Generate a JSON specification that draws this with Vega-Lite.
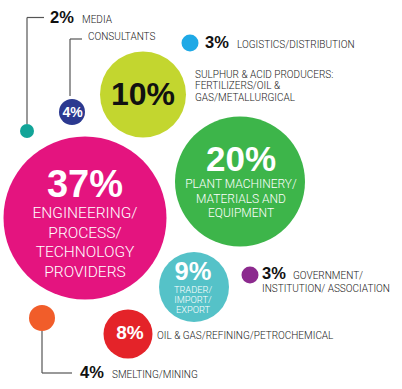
{
  "$schema": "https://vega.github.io/schema/vega-lite/v6.json",
  "width": 402,
  "height": 389,
  "padding": 0,
  "autosize": {"type": "none"},
  "background": "#ffffff",
  "config": {"view": {"stroke": null}, "axis": {"disable": true}, "legend": {"disable": true}},
  "datasets": {
    "bubbles": [
      {"cat": "Engineering/Process/Technology Providers", "pct": 37, "x": 85, "y": 218},
      {"cat": "Plant Machinery/Materials and Equipment", "pct": 20, "x": 240, "y": 181.5},
      {"cat": "Sulphur & Acid Producers", "pct": 10, "x": 143, "y": 94.5},
      {"cat": "Trader/Import/Export", "pct": 9, "x": 194, "y": 287},
      {"cat": "Oil & Gas/Refining/Petrochemical", "pct": 8, "x": 128, "y": 334},
      {"cat": "Consultants", "pct": 4, "x": 72, "y": 112},
      {"cat": "Smelting/Mining", "pct": 4, "x": 42, "y": 318},
      {"cat": "Logistics/Distribution", "pct": 3, "x": 190, "y": 43},
      {"cat": "Government/Institution/Association", "pct": 3, "x": 250, "y": 275},
      {"cat": "Media", "pct": 2, "x": 27, "y": 131}
    ],
    "connectors": [
      {"cat": "Media", "x": 27, "y": 124, "x2": 27, "y2": 17.5},
      {"cat": "Media", "x": 27, "y": 17.5, "x2": 44, "y2": 17.5},
      {"cat": "Consultants", "x": 70, "y": 96, "x2": 70, "y2": 39},
      {"cat": "Consultants", "x": 70, "y": 39, "x2": 82, "y2": 39},
      {"cat": "Smelting/Mining", "x": 42, "y": 331, "x2": 42, "y2": 373},
      {"cat": "Smelting/Mining", "x": 42, "y": 373, "x2": 72, "y2": 373}
    ],
    "labels": [
      {"cat": "Engineering/Process/Technology Providers", "part": "pct", "text": "37%", "x": 85, "y": 197},
      {"cat": "Engineering/Process/Technology Providers", "part": "desc", "text": "ENGINEERING/", "x": 85, "y": 218},
      {"cat": "Engineering/Process/Technology Providers", "part": "desc", "text": "PROCESS/", "x": 85, "y": 237.5},
      {"cat": "Engineering/Process/Technology Providers", "part": "desc", "text": "TECHNOLOGY", "x": 85, "y": 257},
      {"cat": "Engineering/Process/Technology Providers", "part": "desc", "text": "PROVIDERS", "x": 85, "y": 277},
      {"cat": "Plant Machinery/Materials and Equipment", "part": "pct", "text": "20%", "x": 241, "y": 171},
      {"cat": "Plant Machinery/Materials and Equipment", "part": "desc", "text": "PLANT MACHINERY/", "x": 241, "y": 187.5},
      {"cat": "Plant Machinery/Materials and Equipment", "part": "desc", "text": "MATERIALS AND", "x": 241, "y": 202.5},
      {"cat": "Plant Machinery/Materials and Equipment", "part": "desc", "text": "EQUIPMENT", "x": 241, "y": 217},
      {"cat": "Sulphur & Acid Producers", "part": "pct", "text": "10%", "x": 143, "y": 105},
      {"cat": "Sulphur & Acid Producers", "part": "out", "text": "SULPHUR & ACID PRODUCERS:", "x": 195, "y": 78},
      {"cat": "Sulphur & Acid Producers", "part": "out", "text": "FERTILIZERS/OIL &", "x": 195, "y": 89.3},
      {"cat": "Sulphur & Acid Producers", "part": "out", "text": "GAS/METALLURGICAL", "x": 195, "y": 100.6},
      {"cat": "Trader/Import/Export", "part": "pct", "text": "9%", "x": 193, "y": 279.5},
      {"cat": "Trader/Import/Export", "part": "desc", "text": "TRADER/", "x": 193, "y": 293.2},
      {"cat": "Trader/Import/Export", "part": "desc", "text": "IMPORT/", "x": 193, "y": 303.2},
      {"cat": "Trader/Import/Export", "part": "desc", "text": "EXPORT", "x": 193, "y": 313.2},
      {"cat": "Oil & Gas/Refining/Petrochemical", "part": "pct", "text": "8%", "x": 130, "y": 339},
      {"cat": "Oil & Gas/Refining/Petrochemical", "part": "out", "text": "OIL & GAS/REFINING/PETROCHEMICAL", "x": 157, "y": 339},
      {"cat": "Consultants", "part": "pct", "text": "4%", "x": 72.5, "y": 117},
      {"cat": "Consultants", "part": "out", "text": "CONSULTANTS", "x": 88, "y": 40},
      {"cat": "Smelting/Mining", "part": "outpct", "text": "4%", "x": 80, "y": 378},
      {"cat": "Smelting/Mining", "part": "out", "text": "SMELTING/MINING", "x": 112, "y": 378},
      {"cat": "Logistics/Distribution", "part": "outpct", "text": "3%", "x": 205, "y": 48},
      {"cat": "Logistics/Distribution", "part": "out", "text": "LOGISTICS/DISTRIBUTION", "x": 237, "y": 48},
      {"cat": "Government/Institution/Association", "part": "outpct", "text": "3%", "x": 262, "y": 279},
      {"cat": "Government/Institution/Association", "part": "out", "text": "GOVERNMENT/", "x": 293, "y": 279},
      {"cat": "Government/Institution/Association", "part": "out", "text": "INSTITUTION/ ASSOCIATION", "x": 262, "y": 292},
      {"cat": "Media", "part": "outpct", "text": "2%", "x": 50, "y": 23},
      {"cat": "Media", "part": "out", "text": "MEDIA", "x": 82, "y": 23}
    ]
  },
  "encoding": {
    "x": {"field": "x", "type": "quantitative", "scale": {"domain": [0, 402], "nice": false, "zero": false}},
    "y": {"field": "y", "type": "quantitative", "scale": {"domain": [0, 389], "nice": false, "zero": false, "reverse": true}}
  },
  "layer": [
    {
      "data": {"name": "connectors"},
      "mark": {"type": "rule", "color": "#555555", "strokeWidth": 1.2},
      "encoding": {"x2": {"field": "x2"}, "y2": {"field": "y2"}}
    },
    {
      "data": {"name": "bubbles"},
      "mark": {"type": "circle", "opacity": 1},
      "encoding": {
        "size": {"field": "pct", "type": "quantitative", "scale": {"type": "linear", "domain": [2, 3, 4, 8, 9, 10, 20, 37], "range": [196, 289, 676, 2401, 4900, 7396, 16900, 26569]}},
        "color": {"field": "cat", "type": "nominal", "scale": {
          "domain": ["Engineering/Process/Technology Providers", "Plant Machinery/Materials and Equipment", "Sulphur & Acid Producers", "Trader/Import/Export", "Oil & Gas/Refining/Petrochemical", "Consultants", "Smelting/Mining", "Logistics/Distribution", "Government/Institution/Association", "Media"],
          "range": ["#e4147f", "#3db54a", "#c3d62f", "#55c2c8", "#e42329", "#2b3990", "#f15d2a", "#1fa9e6", "#8c2a8e", "#12a498"]}}
      }
    },
    {
      "data": {"name": "labels"},
      "transform": [{"filter": "datum.part === 'pct' && datum.text === '37%'"}],
      "mark": {"type": "text", "font": "Liberation Sans", "fontWeight": "bold", "fontSize": 38, "color": "#ffffff", "align": "center", "baseline": "alphabetic"},
      "encoding": {"text": {"field": "text"}}
    },
    {
      "data": {"name": "labels"},
      "transform": [{"filter": "datum.part === 'pct' && datum.text === '20%'"}],
      "mark": {"type": "text", "font": "Liberation Sans", "fontWeight": "bold", "fontSize": 35, "color": "#ffffff", "align": "center", "baseline": "alphabetic"},
      "encoding": {"text": {"field": "text"}}
    },
    {
      "data": {"name": "labels"},
      "transform": [{"filter": "datum.part === 'pct' && datum.text === '10%'"}],
      "mark": {"type": "text", "font": "Liberation Sans", "fontWeight": "bold", "fontSize": 32, "color": "#111111", "align": "center", "baseline": "alphabetic"},
      "encoding": {"text": {"field": "text"}}
    },
    {
      "data": {"name": "labels"},
      "transform": [{"filter": "datum.part === 'pct' && datum.text === '9%'"}],
      "mark": {"type": "text", "font": "Liberation Sans", "fontWeight": "bold", "fontSize": 25.5, "color": "#ffffff", "align": "center", "baseline": "alphabetic"},
      "encoding": {"text": {"field": "text"}}
    },
    {
      "data": {"name": "labels"},
      "transform": [{"filter": "datum.part === 'pct' && datum.text === '8%'"}],
      "mark": {"type": "text", "font": "Liberation Sans", "fontWeight": "bold", "fontSize": 19, "color": "#ffffff", "align": "center", "baseline": "alphabetic"},
      "encoding": {"text": {"field": "text"}}
    },
    {
      "data": {"name": "labels"},
      "transform": [{"filter": "datum.part === 'pct' && datum.cat === 'Consultants'"}],
      "mark": {"type": "text", "font": "Liberation Sans", "fontWeight": "bold", "fontSize": 14, "color": "#ffffff", "align": "center", "baseline": "alphabetic"},
      "encoding": {"text": {"field": "text"}}
    },
    {
      "data": {"name": "labels"},
      "transform": [{"filter": "datum.part === 'desc' && datum.cat === 'Engineering/Process/Technology Providers'"}],
      "mark": {"type": "text", "font": "Roboto", "fontWeight": 300, "fontSize": 15.5, "color": "#ffffff", "align": "center", "baseline": "alphabetic"},
      "encoding": {"text": {"field": "text"}}
    },
    {
      "data": {"name": "labels"},
      "transform": [{"filter": "datum.part === 'desc' && datum.cat === 'Plant Machinery/Materials and Equipment'"}],
      "mark": {"type": "text", "font": "Roboto", "fontWeight": 300, "fontSize": 12, "color": "#ffffff", "align": "center", "baseline": "alphabetic"},
      "encoding": {"text": {"field": "text"}}
    },
    {
      "data": {"name": "labels"},
      "transform": [{"filter": "datum.part === 'desc' && datum.cat === 'Trader/Import/Export'"}],
      "mark": {"type": "text", "font": "Roboto", "fontWeight": 300, "fontSize": 9.3, "color": "#ffffff", "align": "center", "baseline": "alphabetic"},
      "encoding": {"text": {"field": "text"}}
    },
    {
      "data": {"name": "labels"},
      "transform": [{"filter": "datum.part === 'outpct'"}],
      "mark": {"type": "text", "font": "Liberation Sans", "fontWeight": "bold", "fontSize": 16.5, "color": "#111111", "align": "left", "baseline": "alphabetic"},
      "encoding": {"text": {"field": "text"}}
    },
    {
      "data": {"name": "labels"},
      "transform": [{"filter": "datum.part === 'out'"}],
      "mark": {"type": "text", "font": "Roboto", "fontWeight": 300, "fontSize": 10, "color": "#1a1a1a", "align": "left", "baseline": "alphabetic"},
      "encoding": {"text": {"field": "text"}}
    }
  ]
}
